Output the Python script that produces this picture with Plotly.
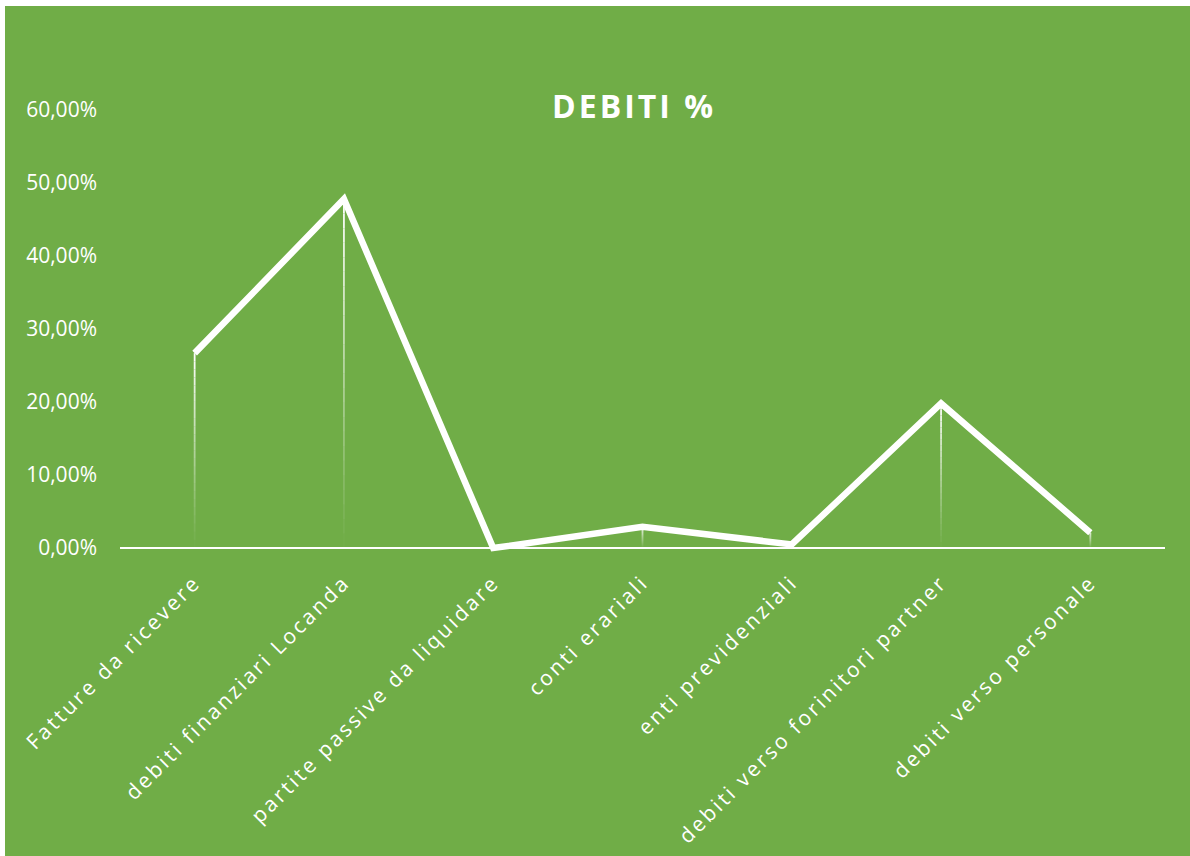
import plotly.graph_objects as go

# ---- data ----
categories = [
    "Fatture da ricevere",
    "debiti finanziari Locanda",
    "partite passive da liquidare",
    "conti erariali",
    "enti previdenziali",
    "debiti verso forinitori partner",
    "debiti verso personale",
]
values = [0.267, 0.478, 0.0, 0.029, 0.005, 0.198, 0.021]
y_ticks = [0.0, 0.1, 0.2, 0.3, 0.4, 0.5, 0.6]
title_text = "DEBITI %"

# ---- layout constants (reference pixel geometry) ----
PAGE_W, PAGE_H = 1190, 856
OX, OY = 5, 6                      # white page border (left / top)
W, H = PAGE_W - OX, PAGE_H - OY    # figure size
GREEN = "#70AD47"
FONT = "Open Sans"
PLOT_LEFT, PLOT_RIGHT = 120 - OX, 1165 - OX
Y_TOP_PX, Y_ZERO_PX = 110 - OY, 548 - OY
Y_MAX = 0.6
Y_MIN = -0.015
PX_PER_UNIT = (Y_ZERO_PX - Y_TOP_PX) / Y_MAX
ML = PLOT_LEFT
MR = W - PLOT_RIGHT
MT = Y_TOP_PX
MB = H - Y_ZERO_PX - (-Y_MIN) * PX_PER_UNIT

idx = list(range(len(categories)))

fig = go.Figure()

# drop lines with a fading (gradient) look
N = 24
for k in range(N):
    xs, ys = [], []
    for i, v in zip(idx, values):
        if v <= 0:
            continue
        xs += [i, i, None]
        ys += [v * k / N, v * (k + 1) / N, None]
    fig.add_trace(go.Scatter(
        x=xs, y=ys, mode="lines",
        line=dict(color="white", width=1.8),
        opacity=((k + 0.5) / N) ** 1.1,
        hoverinfo="skip", showlegend=False,
    ))

# main line
fig.add_trace(go.Scatter(
    x=idx, y=values, mode="lines",
    line=dict(color="white", width=6.5),
    showlegend=False,
))

fig.update_layout(
    width=W, height=H,
    margin=dict(l=ML, r=MR, t=MT, b=MB, pad=0),
    paper_bgcolor=GREEN,
    plot_bgcolor="rgba(0,0,0,0)",
    separators=",.",
    font=dict(family=FONT, color="white", size=21),
    title=dict(
        text=title_text,
        font=dict(family=FONT, size=32, color="white", weight="bold"),
        x=(634 - OX) / W, xref="container", xanchor="center",
        y=1 - (107 - OY) / H, yref="container", yanchor="middle",
    ),
    xaxis=dict(
        range=[-0.5, len(categories) - 0.5],
        tickvals=idx, ticktext=categories,
        tickangle=-45,
        showgrid=False, zeroline=False, showline=False, ticks="",
        tickfont=dict(family=FONT, size=21, color="white"),
        ticklabelstandoff=6,
        fixedrange=True,
    ),
    yaxis=dict(
        range=[Y_MIN, Y_MAX],
        tickvals=y_ticks, tickformat=".2%",
        showgrid=False, showline=False, ticks="",
        zeroline=True, zerolinecolor="white", zerolinewidth=2,
        tickfont=dict(family=FONT, size=21, color="white"),
        ticklabelstandoff=22,
        fixedrange=True,
    ),
)

post = """
document.body.style.margin = '%dpx 0 0 %dpx';
document.body.style.overflow = 'hidden';
document.body.style.background = 'white';
var gd = document.getElementById('{plot_id}');
gd.querySelectorAll('.xtick text').forEach(function(t){ t.style.letterSpacing = '2.7px'; });
gd.querySelectorAll('.gtitle').forEach(function(t){ t.style.letterSpacing = '3px'; });
""" % (OY, OX)

fig.write_html("out.html", config={"displayModeBar": False}, post_script=post)
